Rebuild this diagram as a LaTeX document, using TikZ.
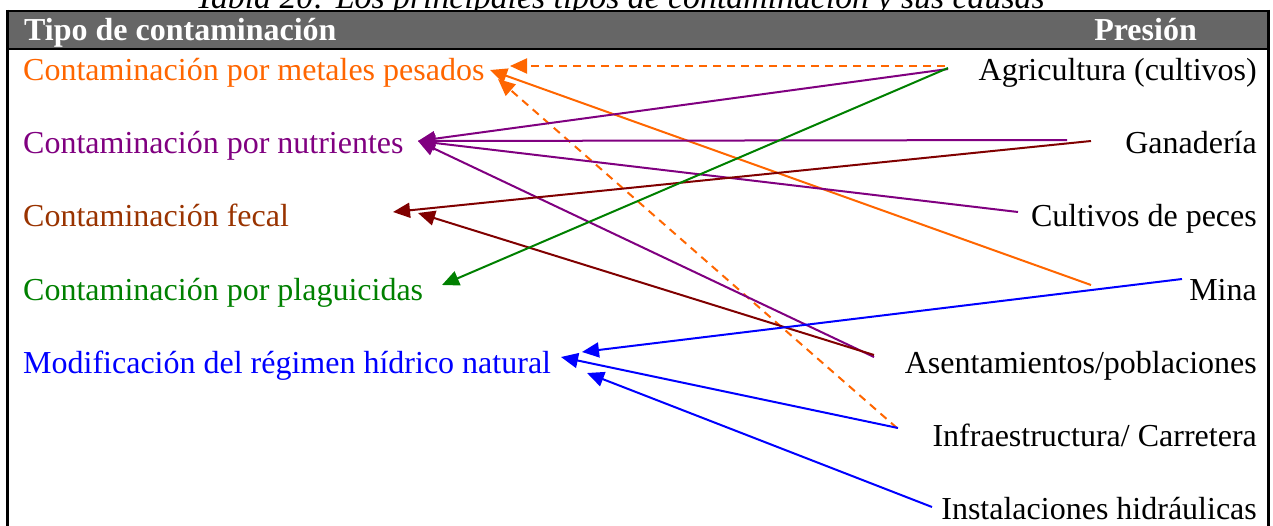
\documentclass[tikz,border=0pt]{standalone}
\usepackage{fontspec}
\setmainfont{Liberation Serif}
\usetikzlibrary{arrows.meta}
\definecolor{corange}{RGB}{255,102,0}
\definecolor{cpurple}{RGB}{128,0,128}
\definecolor{cmaroon}{RGB}{128,0,0}
\definecolor{cbrown}{RGB}{153,51,0}
\definecolor{cgreen}{RGB}{0,128,0}
\definecolor{cblue}{RGB}{0,0,255}
\definecolor{hdr}{RGB}{102,102,102}
\begin{document}
\begin{tikzpicture}[x=1pt,y=-1pt,
  lbl/.style={inner sep=0pt, font=\fontsize{32}{38}\selectfont},
  hlbl/.style={inner sep=0pt, text=white, font=\fontsize{32}{38}\selectfont\bfseries},
  conn/.style={line width=2pt, -{Triangle[length=17pt,width=15pt]}},
  dsh/.style={dash pattern=on 8pt off 6pt},
  frame/.style={line width=2.5pt}]
\useasboundingbox (0,0) rectangle (1273,525);
% title (partly cut off at the top)
\node[inner sep=0pt, font=\fontsize{33.8}{40}\selectfont\itshape, anchor=base] (title) at (620,8) {Tabla 20: Los principales tipos de contaminación y sus causas};
% header bar and frame
\fill[hdr] (7.5,11) rectangle (1268.5,49);
\draw[frame] (7.5,11) -- (1268.5,11);
\draw[frame] (7.5,49) -- (1268.5,49);
\draw[frame] (7.5,9.75) -- (7.5,530);
\draw[frame] (1268.5,9.75) -- (1268.5,530);
\node[hlbl, anchor=base west] (H1) at (24,40) {Tipo de contaminación};
\node[hlbl, anchor=base east] (H2) at (1197,40) {Presión};
% left column
\node[lbl, anchor=base west, text=corange] (L1) at (23,80) {Contaminación por metales pesados};
\node[lbl, anchor=base west, text=cpurple] (L2) at (23,153.3) {Contaminación por nutrientes};
\node[lbl, anchor=base west, text=cbrown] (L3) at (23,226.6) {Contaminación fecal};
\node[lbl, anchor=base west, text=cgreen] (L4) at (23,300) {Contaminación por plaguicidas};
\node[lbl, anchor=base west, text=cblue] (L5) at (23,373.2) {Modificación del régimen hídrico natural};
% right column
\node[lbl, anchor=base east] (R1) at (1257,80) {Agricultura (cultivos)};
\node[lbl, anchor=base east] (R2) at (1257,153.3) {Ganadería};
\node[lbl, anchor=base east] (R3) at (1257,226.6) {Cultivos de peces};
\node[lbl, anchor=base east] (R4) at (1257,300) {Mina};
\node[lbl, anchor=base east] (R5) at (1257,373.2) {Asentamientos/poblaciones};
\node[lbl, anchor=base east] (R6) at (1257,446.5) {Infraestructura/ Carretera};
\node[lbl, anchor=base east] (R7) at (1257,519.8) {Instalaciones hidráulicas};
% connector ends
\coordinate (R1o) at (945,66);
\coordinate (R1p) at (948,69);
\coordinate (R1g) at (948,68);
\coordinate (R2p) at (1067,140);
\coordinate (R2m) at (1091,141);
\coordinate (R3p) at (1018,212);
\coordinate (R4o) at (1091,285);
\coordinate (R4b) at (1182,279);
\coordinate (R5p) at (874,357);
\coordinate (R5m) at (874,355);
\coordinate (R6o) at (897,428);
\coordinate (R6b) at (898,428);
\coordinate (R7b) at (932,507);
\coordinate (L1a) at (510,66);
\coordinate (L1b) at (490,70);
\coordinate (L1c) at (498,79);
\coordinate (L2a) at (418,141);
\coordinate (L3a) at (393,212);
\coordinate (L3b) at (418,213);
\coordinate (L4a) at (442,285);
\coordinate (L5a) at (582,352);
\coordinate (L5b) at (561,357);
\coordinate (L5c) at (587,373);
% connectors
\draw[conn, corange, dsh] (R1o) -- (L1a);
\draw[conn, corange, dsh] (R6o) -- (L1c);
\draw[conn, corange] (R4o) -- (L1b);
\draw[conn, cpurple] (R1p) -- (L2a);
\draw[conn, cpurple] (R2p) -- (L2a);
\draw[conn, cpurple] (R3p) -- (L2a);
\draw[conn, cpurple] (R5p) -- (L2a);
\draw[conn, cmaroon] (R2m) -- (L3a);
\draw[conn, cmaroon] (R5m) -- (L3b);
\draw[conn, cgreen] (R1g) -- (L4a);
\draw[conn, cblue] (R4b) -- (L5a);
\draw[conn, cblue] (R6b) -- (L5b);
\draw[conn, cblue] (R7b) -- (L5c);
\end{tikzpicture}
\end{document}
